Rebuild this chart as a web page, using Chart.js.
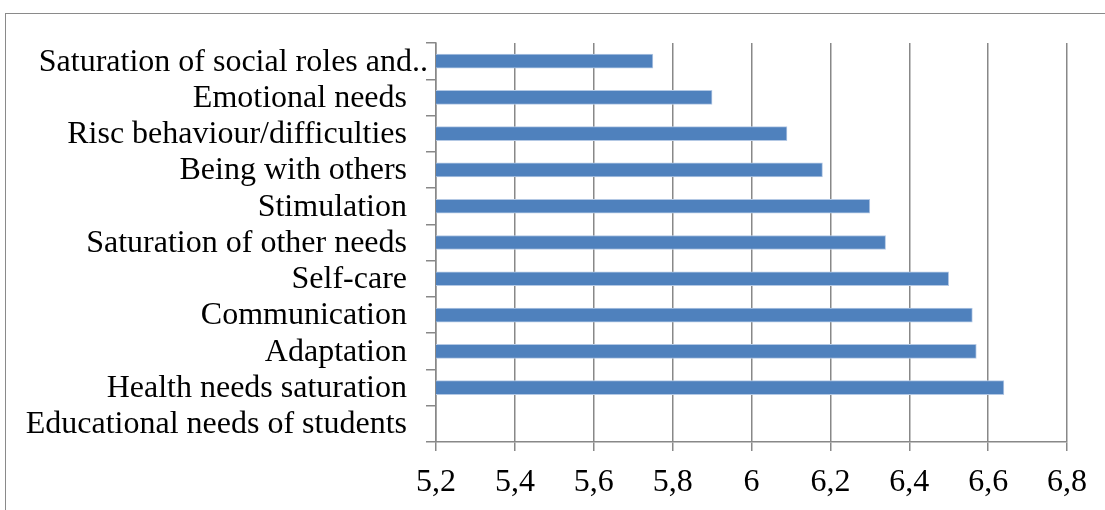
<!DOCTYPE html>
<html>
<head>
<meta charset="utf-8">
<script src="https://cdn.jsdelivr.net/npm/chart.js@4.4.1/dist/chart.umd.min.js"></script>
<style>
  html, body { margin: 0; padding: 0; background: #fff; overflow: hidden; }
  #wrap { position: relative; width: 1105px; height: 510px; }
  #frame { position: absolute; left: 5px; top: 13px; width: 1110px; height: 510px;
           border: 1.5px solid #8a8a8a; box-sizing: border-box; }
  #chart { position: absolute; left: 0; top: 0; }
</style>
</head>
<body>
<div id="wrap">
  <div id="frame"></div>
  <canvas id="chart" width="1105" height="510"></canvas>
</div>
<script>
// Categories, listed top to bottom
const categories = [
  'Saturation of social roles and..',
  'Emotional needs',
  'Risc behaviour/difficulties',
  'Being with others',
  'Stimulation',
  'Saturation of other needs',
  'Self-care',
  'Communication',
  'Adaptation',
  'Health needs saturation',
  'Educational needs of students'
];

// Mean scores per category
const scores = [5.75, 5.90, 6.09, 6.18, 6.30, 6.34, 6.50, 6.56, 6.57, 6.64, null];

// Value axis labels (decimal comma)
const xTickLabels = ['5,2', '5,4', '5,6', '5,8', '6', '6,2', '6,4', '6,6', '6,8'];

const gridGray = '#888888';
const serif = { family: "'Liberation Serif', 'Times New Roman', serif", size: 32 };

// The truncated first label runs on past the others, up to the tick marks
const overflowLabel = {
  id: 'overflowLabel',
  beforeDraw(chart) {
    const items = chart.scales.y.getLabelItems();
    if (items.length && !items[0]._shifted) {
      items[0].options.translation[0] += 21;
      items[0]._shifted = true;
    }
  }
};

new Chart(document.getElementById('chart'), {
  type: 'bar',
  data: {
    labels: categories,
    datasets: [{
      data: scores,
      backgroundColor: '#4f81bd',
      borderColor: '#b3c8e4',
      borderWidth: 1,
      borderSkipped: false,
      barThickness: 14
    }]
  },
  plugins: [overflowLabel],
  options: {
    indexAxis: 'y',
    responsive: false,
    animation: false,
    layout: { padding: { left: 0, top: 43, right: 38, bottom: 0 } },
    plugins: { legend: { display: false }, tooltip: { enabled: false } },
    scales: {
      x: {
        type: 'linear',
        min: 5.2,
        max: 6.8,
        ticks: {
          stepSize: 0.2,
          color: '#000',
          font: serif,
          padding: 12,
          maxRotation: 0,
          callback: (v, i) => xTickLabels[i]
        },
        grid: { color: gridGray, lineWidth: 1.5, tickLength: 9 },
        border: { color: gridGray, width: 1.5 },
        afterFit: s => { s.height = 68; }
      },
      y: {
        type: 'category',
        offset: true,
        ticks: { color: '#000', font: serif, padding: 19, labelOffset: 1, autoSkip: false },
        grid: { drawOnChartArea: false, color: gridGray, lineWidth: 1.5, tickLength: 10, offset: true },
        border: { color: gridGray, width: 1.5 },
        afterFit: s => { s.width = 436; }
      }
    }
  }
});
</script>
</body>
</html>
